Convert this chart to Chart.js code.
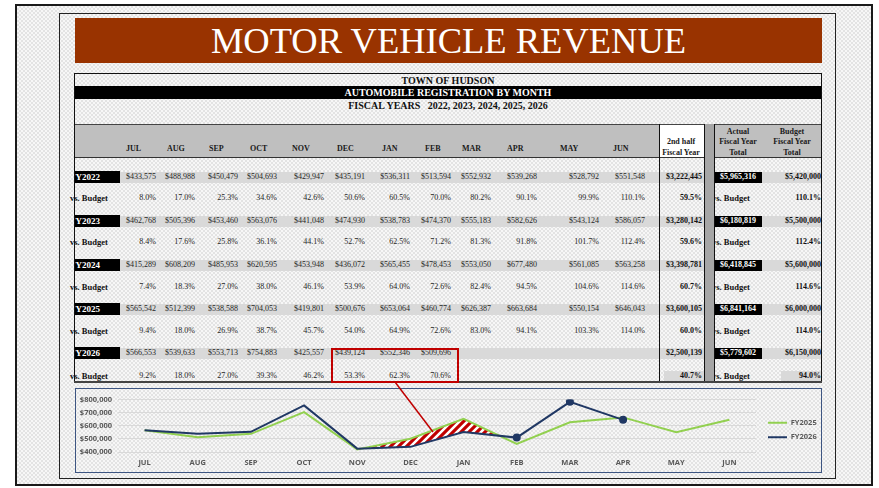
<!DOCTYPE html>
<html>
<head>
<meta charset="utf-8">
<title>Motor Vehicle Revenue</title>
<script src="https://cdn.jsdelivr.net/npm/chart.js@4.4.1/dist/chart.umd.min.js"></script>
<style>
body { margin:0; width:879px; height:488px; position:relative; overflow:hidden; background:#fff; font-family:"Liberation Serif", "Times New Roman", serif; }
.abs { position:absolute; box-sizing:border-box; }
.chk { background: repeating-conic-gradient(#e3e3e3 0 25%, #f7f7f7 0 50%) 0 0 / 4px 4px; }
.t { position:absolute; white-space:pre; height:12px; line-height:12px; font-size:8px; color:#262626; }
#chartBox { position:absolute; left:75px; top:388px; width:747px; height:85px; border:1px solid #3d5582; box-sizing:border-box; }
</style>
</head>
<body>
<div id="page"></div>
<div id="chartBox"><canvas id="revenueChart"></canvas></div>
<svg class="abs" style="left:0;top:0;width:879px;height:488px;pointer-events:none" width="879" height="488">
  <rect x="332" y="349" width="126" height="33" fill="none" stroke="#c00000" stroke-width="2"/>
  <line x1="395" y1="382" x2="433" y2="432" stroke="#c00000" stroke-width="1.5"/>
</svg>
<script>
window.onload = onPageLoad;

const months = ["JUL", "AUG", "SEP", "OCT", "NOV", "DEC", "JAN", "FEB", "MAR", "APR", "MAY", "JUN"];
const fiscalYears = ["FY2022", "FY2023", "FY2024", "FY2025", "FY2026"];

const fy2022 = [433575, 488988, 450479, 504693, 429947, 435191, 536311, 513594, 552932, 539268, 528792, 551548];
const fy2023 = [462768, 505396, 453460, 563076, 441048, 474930, 538783, 474370, 555183, 582626, 543124, 586057];
const fy2024 = [415289, 608209, 485953, 620595, 453948, 436072, 565455, 478453, 553050, 677480, 561085, 563258];
const fy2025 = [565542, 512399, 538588, 704053, 419801, 500676, 653064, 460774, 626387, 663684, 550154, 646043];
const fy2026 = [566553, 539633, 553713, 754883, 425557, 439124, 552346, 509696];

const pct2022 = [8.0, 17.0, 25.3, 34.6, 42.6, 50.6, 60.5, 70.0, 80.2, 90.1, 99.9, 110.1];
const pct2023 = [8.4, 17.6, 25.8, 36.1, 44.1, 52.7, 62.5, 71.2, 81.3, 91.8, 101.7, 112.4];
const pct2024 = [7.4, 18.3, 27.0, 38.0, 46.1, 53.9, 64.0, 72.6, 82.4, 94.5, 104.6, 114.6];
const pct2025 = [9.4, 18.0, 26.9, 38.7, 45.7, 54.0, 64.9, 72.6, 83.0, 94.1, 103.3, 114.0];
const pct2026 = [9.2, 18.0, 27.0, 39.3, 46.2, 53.3, 62.3, 70.6];

const secondHalf = [3222445, 3280142, 3398781, 3600105, 2500139];
const secondHalfPct = [59.5, 59.6, 60.7, 60.0, 40.7];
const actualTotal = [5965316, 6180819, 6418845, 6841164, 5779602];
const budgetTotal = [5420000, 5500000, 5600000, 6000000, 6150000];
const budgetPct = [110.1, 112.4, 114.6, 114.0, 94.0];

// chart series (FY2026 line runs on to MAR and APR in the chart)
const chartFY2025 = [565542, 512399, 538588, 704053, 419801, 500676, 653064, 460774, 626387, 663684, 550154, 646043];
const chartFY2026 = [566553, 539633, 553713, 754883, 425557, 439124, 552346, 509696, 782000, 645000, null, null];
const gapMonths = ["NOV", "DEC", "JAN", "FEB"];
const yTicks = [400000, 500000, 600000, 700000, 800000];

const valueRight = [156, 195, 238, 277, 324, 365, 410, 451, 491, 537, 599, 645];
const headLeft = [126, 167, 209, 250, 292, 337, 382, 425, 462, 507, 560, 613];
const rowY = [177, 221, 265, 309, 353];
const pctY = [198, 242, 287, 331, 376];

let page

function money(n) {
    return "$" + n.toLocaleString("en-US");
}

function box(x, y, w, h, css) {
    let d = document.createElement("div");
    d.className = "abs";
    d.style.cssText = "left:" + x + "px;top:" + y + "px;width:" + w + "px;height:" + h + "px;" + (css || "");
    page.appendChild(d);
    return d;
}

function text(s, x, cy, align, css) {
    let d = document.createElement("div");
    d.className = "t";
    d.textContent = s;
    let st = "top:" + (cy - 6) + "px;";
    if (align == "right") st += "left:" + (x - 200) + "px;width:200px;text-align:right;";
    else if (align == "center") st += "left:" + (x - 150) + "px;width:300px;text-align:center;";
    else st += "left:" + x + "px;";
    d.style.cssText = st + (css || "");
    page.appendChild(d);
    return d;
}

function onPageLoad() {
    page = document.getElementById("page");
    drawFrame();
    drawTable();
    createChart();
}

function drawFrame() {
    box(15, 4, 858, 482, "border:2px solid #1a1a1a;").classList.add("chk");
    box(59, 13, 777, 466, "border:1px solid #222;");
    let title = box(75, 18, 747, 45, "background:#993300;color:#fff;font-size:36.5px;line-height:45px;text-align:center;");
    title.textContent = "MOTOR VEHICLE REVENUE";
}

function drawTable() {
    let bold = "font-weight:bold;font-size:10px;color:#111;";
    text("TOWN OF HUDSON", 448, 81, "center", bold);
    box(74, 86, 748, 13, "background:#000;");
    text("AUTOMOBILE REGISTRATION BY MONTH", 448, 92.5, "center", bold + "color:#fff;");
    text("FISCAL YEARS   2022, 2023, 2024, 2025, 2026", 448, 106, "center", bold);

    // header band
    box(74, 124, 748, 34, "background:#bfbfbf;border-top:1px solid #444;border-bottom:1px solid #333;");
    box(659, 124, 46, 34, "background:#fff;border-top:1px solid #444;border-bottom:1px solid #333;");
    let hb = "font-weight:bold;color:#1a1a1a;";
    months.forEach((m, i) => text(m, headLeft[i], 149, "left", hb));
    text("2nd half", 681, 142, "center", hb);
    text("Fiscal Year", 681, 153, "center", hb);
    text("Actual", 738, 132, "center", hb);
    text("Fiscal Year", 738, 142, "center", hb);
    text("Total", 738, 153, "center", hb);
    text("Budget", 792, 132, "center", hb);
    text("Fiscal Year", 792, 142, "center", hb);
    text("Total", 792, 153, "center", hb);

    let values = [fy2022, fy2023, fy2024, fy2025, fy2026];
    let pcts = [pct2022, pct2023, pct2024, pct2025, pct2026];

    fiscalYears.forEach((fy, r) => {
        let y = rowY[r];
        box(120, y - 5.5, 584, 11, "background:#d9d9d9;");
        box(762, y - 5.5, 59, 11, "background:#d9d9d9;");
        let lab = box(74, y - 6, 46, 12, "background:#000;overflow:hidden;");
        lab.innerHTML = '<div class="t" style="left:-4px;top:0;color:#fff;font-weight:bold;font-size:9px">' + fy + '</div>';
        values[r].forEach((v, i) => text(money(v), valueRight[i], y, "right"));
        text(money(secondHalf[r]), 702, y, "right", "font-weight:bold;color:#111;");
        box(715, y - 5.5, 47, 11, "background:#000;");
        text(money(actualTotal[r]), 738, y, "center", "font-weight:bold;color:#fff;");
        text(money(budgetTotal[r]), 821, y, "right", "font-weight:bold;color:#111;");

        let py = pctY[r];
        if (r == 4) {
            box(664, py - 5, 40, 10, "background:#d9d9d9;");
            box(781, py - 5, 40, 10, "background:#d9d9d9;");
        }
        text("vs. Budget", 70, py, "left", "font-weight:bold;font-size:8.5px;color:#111;");
        pcts[r].forEach((v, i) => text(v.toFixed(1) + "%", valueRight[i], py, "right"));
        text(secondHalfPct[r].toFixed(1) + "%", 702, py, "right", "font-weight:bold;color:#111;");
        let vb = box(715, py - 6, 50, 12, "overflow:hidden;");
        vb.innerHTML = '<div class="t" style="left:-3px;top:0;font-weight:bold;font-size:8.5px;color:#111">vs. Budget</div>';
        text(budgetPct[r].toFixed(1) + "%", 821, py, "right", "font-weight:bold;color:#111;");
    });

    // rules
    box(74, 73, 748, 1, "background:#111;");
    box(74, 73, 1, 309, "background:#111;");
    box(821, 73, 1, 309, "background:#111;");
    box(659, 124, 1, 258, "background:#111;");
    box(704, 124, 11, 258, "background:#a6a6a6;border-left:1px solid #111;border-right:1px solid #111;");
    box(74, 381, 748, 2, "background:#444;");
}

function hatchPattern(ctx) {
    let c = document.createElement("canvas");
    c.width = 8;
    c.height = 8;
    let g = c.getContext("2d");
    g.fillStyle = "#c00000";
    g.fillRect(0, 0, 8, 8);
    g.strokeStyle = "#ffffff";
    g.lineWidth = 2.5;
    g.beginPath();
    g.moveTo(0, 8); g.lineTo(8, 0);
    g.moveTo(-2, 2); g.lineTo(2, -2);
    g.moveTo(6, 10); g.lineTo(10, 6);
    g.stroke();
    return ctx.createPattern(c, "repeat");
}

// moves the legend a few px up and right, as in the reference
const legendNudge = {
    id: "legendNudge",
    afterLayout(chart) {
        let lg = chart.legend;
        lg.left += 5; lg.right += 5;
        lg.top -= 5; lg.bottom -= 5;
    }
};

function createChart() {
    let canvas = document.getElementById("revenueChart");
    let context = canvas.getContext("2d");
    let gapData = months.map((m, i) => gapMonths.includes(m) ? chartFY2025[i] : null);
    let markers = chartFY2026.map((v, i) => (i >= 7 && v != null) ? 3 : 0);
    let tickFont = { family: "'Open Sans', sans-serif", size: 7.5, weight: "bold" };

    new Chart(context, {
        type: "line",
        data: {
            labels: months,
            datasets: [{
                label: "FY2025",
                data: chartFY2025,
                borderColor: "#92d050",
                backgroundColor: "#92d050",
                borderWidth: 2,
                pointRadius: 0,
                order: 1
            }, {
                label: "FY2026",
                data: chartFY2026,
                borderColor: "#203864",
                backgroundColor: "#203864",
                borderWidth: 2,
                pointRadius: markers,
                order: 0
            }, {
                label: "gap",
                data: gapData,
                borderWidth: 0,
                pointRadius: 0,
                borderColor: "rgba(0,0,0,0)",
                fill: { target: 1, above: hatchPattern(context), below: "rgba(0,0,0,0)" },
                order: 2
            }]
        },
        plugins: [legendNudge],
        options: {
            responsive: true,
            maintainAspectRatio: false,
            animation: false,
            layout: { padding: { top: 9, right: 0, bottom: 0, left: 0 } },
            plugins: {
                tooltip: { enabled: false },
                legend: {
                    position: "right",
                    maxWidth: 65,
                    labels: {
                        usePointStyle: true,
                        pointStyle: "line",
                        pointStyleWidth: 19,
                        padding: 7,
                        color: "#595959",
                        font: { family: "'Open Sans', sans-serif", size: 7.5, weight: "bold" },
                        filter: item => item.datasetIndex < 2,
                        sort: (a, b) => a.datasetIndex - b.datasetIndex
                    }
                }
            },
            scales: {
                x: {
                    offset: true,
                    grid: { display: false, drawTicks: false },
                    border: { display: false },
                    ticks: { color: "#595959", font: tickFont, padding: 6, maxRotation: 0 },
                    afterFit: s => { s.height = 20; }
                },
                y: {
                    min: yTicks[0],
                    max: yTicks[yTicks.length - 1],
                    afterBuildTicks: s => { s.ticks = yTicks.map(v => ({ value: v })); },
                    grid: { color: "#d9d9d9", drawTicks: false },
                    border: { display: false },
                    ticks: { color: "#595959", font: tickFont, padding: 6, callback: v => money(v) },
                    afterFit: s => { s.width = 42; }
                }
            }
        }
    });
}
</script>
</body>
</html>
